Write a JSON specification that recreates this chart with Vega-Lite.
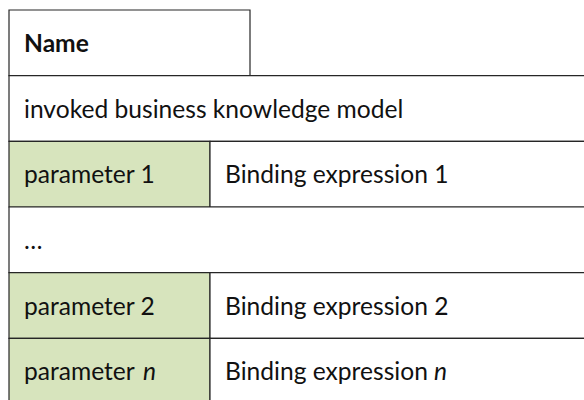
{
  "$schema": "https://vega.github.io/schema/vega-lite/v6.json",
  "width": 584,
  "height": 400,
  "autosize": {"type": "none"},
  "padding": 0,
  "background": "white",
  "config": {"view": {"stroke": null}},
  "datasets": {
    "cells": [
      {"cell": "name", "kind": "header", "row": 0, "rowEnd": 1, "left": 0, "right": 241},
      {"cell": "bkm", "kind": "plain", "row": 1, "rowEnd": 2, "left": 0, "right": 590},
      {"cell": "p1", "kind": "param", "row": 2, "rowEnd": 3, "left": 0, "right": 201},
      {"cell": "b1", "kind": "plain", "row": 2, "rowEnd": 3, "left": 201, "right": 590},
      {"cell": "dots", "kind": "plain", "row": 3, "rowEnd": 4, "left": 0, "right": 590},
      {"cell": "p2", "kind": "param", "row": 4, "rowEnd": 5, "left": 0, "right": 201},
      {"cell": "b2", "kind": "plain", "row": 4, "rowEnd": 5, "left": 201, "right": 590},
      {"cell": "pn", "kind": "param", "row": 5, "rowEnd": 6, "left": 0, "right": 201},
      {"cell": "bn", "kind": "plain", "row": 5, "rowEnd": 6, "left": 201, "right": 590}
    ],
    "texts": [
      {"label": "Name", "style": "bold", "row": 0, "left": 0},
      {"label": "invoked business knowledge model", "style": "normal", "row": 1, "left": 0},
      {"label": "parameter 1", "style": "normal", "row": 2, "left": 0},
      {"label": "Binding expression 1", "style": "normal", "row": 2, "left": 201},
      {"label": "…", "style": "normal", "row": 3, "left": 0},
      {"label": "parameter 2", "style": "normal", "row": 4, "left": 0},
      {"label": "Binding expression 2", "style": "normal", "row": 4, "left": 201},
      {"label": "parameter", "style": "normal", "row": 5, "left": 0},
      {"label": "Binding expression", "style": "normal", "row": 5, "left": 201},
      {"label": "n", "style": "italicParam", "row": 5, "left": 0},
      {"label": "n", "style": "italicBinding", "row": 5, "left": 201}
    ]
  },
  "layer": [
    {
      "data": {"name": "cells"},
      "mark": {"type": "rect", "stroke": "#262626", "strokeWidth": 1.2, "clip": true},
      "encoding": {
        "x": {"field": "left", "type": "quantitative", "axis": null, "scale": {"domain": [-9, 575], "nice": false, "zero": false}},
        "x2": {"field": "right"},
        "y": {"field": "row", "type": "quantitative", "axis": null, "scale": {"domain": [-0.1523, 5.939], "nice": false, "zero": false, "reverse": true}},
        "y2": {"field": "rowEnd"},
        "color": {"field": "kind", "type": "nominal", "legend": null, "scale": {"domain": ["header", "plain", "param"], "range": ["#ffffff", "#ffffff", "#d7e4bd"]}}
      }
    },
    {
      "data": {"name": "texts"},
      "transform": [{"filter": "datum.style === 'normal'"}],
      "mark": {"type": "text", "align": "left", "baseline": "alphabetic", "dx": 15, "dy": 42, "font": "Lato", "fontSize": 24.6, "color": "#111111"},
      "encoding": {
        "x": {"field": "left", "type": "quantitative"},
        "y": {"field": "row", "type": "quantitative"},
        "text": {"field": "label"}
      }
    },
    {
      "data": {"name": "texts"},
      "transform": [{"filter": "datum.style === 'bold'"}],
      "mark": {"type": "text", "align": "left", "baseline": "alphabetic", "dx": 15, "dy": 42, "font": "Lato", "fontSize": 24.6, "fontWeight": "bold", "color": "#111111"},
      "encoding": {
        "x": {"field": "left", "type": "quantitative"},
        "y": {"field": "row", "type": "quantitative"},
        "text": {"field": "label"}
      }
    },
    {
      "data": {"name": "texts"},
      "transform": [{"filter": "datum.style === 'italicParam'"}],
      "mark": {"type": "text", "align": "left", "baseline": "alphabetic", "dx": 134, "dy": 42, "font": "Lato", "fontSize": 24.6, "fontStyle": "italic", "color": "#111111"},
      "encoding": {
        "x": {"field": "left", "type": "quantitative"},
        "y": {"field": "row", "type": "quantitative"},
        "text": {"field": "label"}
      }
    },
    {
      "data": {"name": "texts"},
      "transform": [{"filter": "datum.style === 'italicBinding'"}],
      "mark": {"type": "text", "align": "left", "baseline": "alphabetic", "dx": 224, "dy": 42, "font": "Lato", "fontSize": 24.6, "fontStyle": "italic", "color": "#111111"},
      "encoding": {
        "x": {"field": "left", "type": "quantitative"},
        "y": {"field": "row", "type": "quantitative"},
        "text": {"field": "label"}
      }
    }
  ]
}
